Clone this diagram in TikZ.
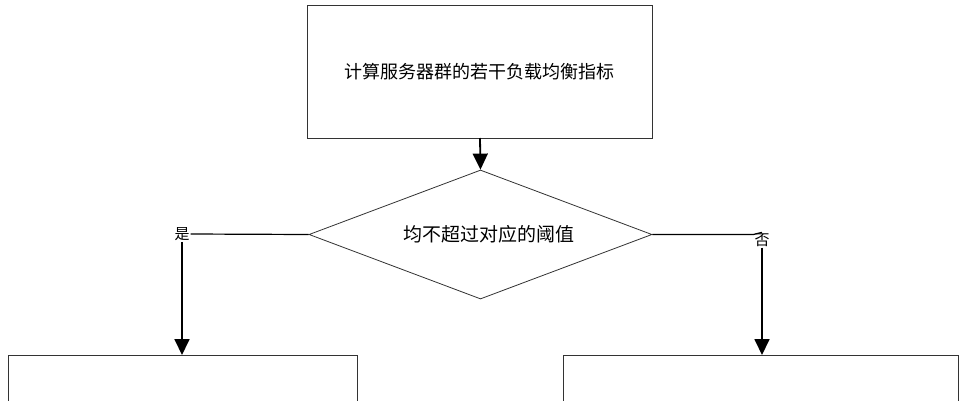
\documentclass[tikz,border=0pt]{standalone}
\usepackage{fontspec}
\setmainfont{Noto Sans CJK SC}
\usetikzlibrary{shapes.geometric,arrows.meta}
\begin{document}
\begin{tikzpicture}[x=1pt,y=-1pt,
  box/.style={draw=black!80,line width=0.8pt,fill=white},
  arr/.style={line width=1.8pt,-{Triangle[width=15pt,length=16pt]}},
  lbl/.style={font=\fontsize{15}{17}\selectfont,inner sep=1pt,fill=white},
  txt/.style={font=\fontsize{18}{21}\selectfont}]
\clip (0,0) rectangle (970,400);
\useasboundingbox (0,0) rectangle (970,400);
\fill[white] (0,0) rectangle (970,400);
\draw[box] (307,5) rectangle (652,138);
\node[txt] (top) at (479.5,72) {计算服务器群的若干负载均衡指标};
\coordinate (tb) at (480,138);
\node[draw=black!80,line width=0.8pt,diamond,aspect=2.66,minimum width=343pt,minimum height=129pt,inner sep=0pt] (dia) at (480.5,234.5) {};
\node[font=\fontsize{19}{22}\selectfont] at (489,234.5) {均不超过对应的阈值};
\draw[arr] (tb) -- (dia.north);
\node[lbl] (yes) at (182,234) {是};
\node[lbl] (no) at (762,240) {否};
\draw[line width=1.2pt] (dia.west) -- (yes.east);
\draw[line width=1.2pt] (dia.east) -- (no.north west|-dia.east) -- (no.north);
\draw[box] (8,355) rectangle (357,420);
\draw[box] (563,355) rectangle (958,420);
\coordinate (lt) at (182,355);
\coordinate (rt) at (762,355);
\draw[arr] (yes.south) -- (lt);
\draw[arr] (no.south) -- (rt);
\end{tikzpicture}
\end{document}
